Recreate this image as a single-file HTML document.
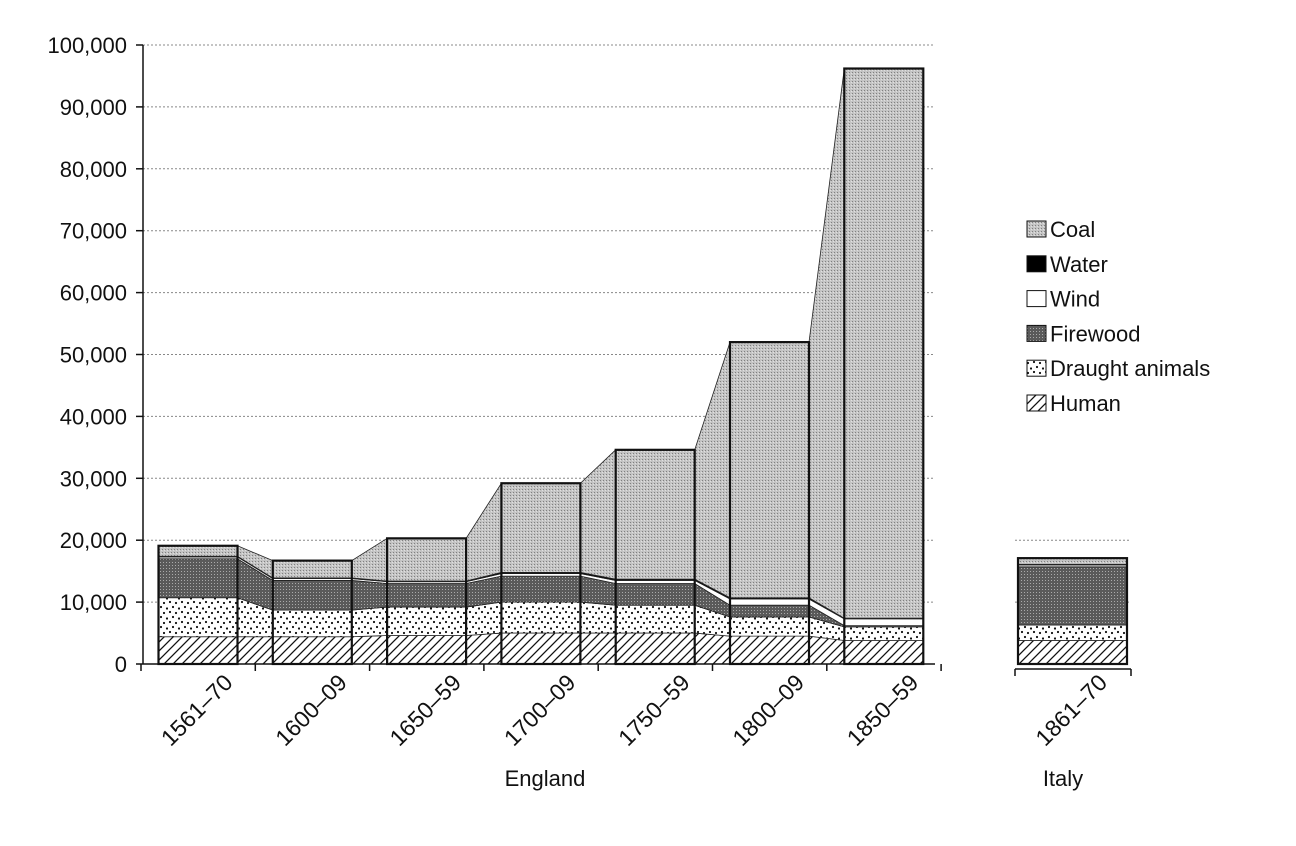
<!DOCTYPE html>
<html><head><meta charset="utf-8"><style>
body{margin:0;background:#fff;}
svg{display:block;font-family:"Liberation Sans",Arial,sans-serif;}
</style></head><body>
<svg id="chart" width="1296" height="846">
<defs>
<pattern id="pCoal" width="3" height="3" patternUnits="userSpaceOnUse"><rect width="3" height="3" fill="#c4c4c4"/><rect x="0" y="0" width="1" height="1" fill="#808080"/><rect x="2" y="1" width="1" height="1" fill="#e0e0e0"/></pattern>
<pattern id="pFire" width="3" height="3" patternUnits="userSpaceOnUse"><rect width="3" height="3" fill="#5a5a5a"/><rect x="1" y="1" width="1" height="1" fill="#aaa"/></pattern>
<pattern id="pDraught" width="12" height="10" patternUnits="userSpaceOnUse"><rect width="12" height="10" fill="#fff"/><circle cx="2" cy="2" r="1.1" fill="#111"/><circle cx="8" cy="3" r="1.1" fill="#111"/><circle cx="5" cy="7" r="1.1" fill="#111"/><circle cx="11" cy="8.5" r="1.1" fill="#111"/></pattern>
<pattern id="pHuman" width="9" height="9" patternUnits="userSpaceOnUse"><rect width="9" height="9" fill="#fff"/><path d="M-1,10 L10,-1 M-3,3 L3,-3 M6,12 L12,6" stroke="#111" stroke-width="1.3"/></pattern>
</defs>
<g id="grid"></g><g id="areas"></g><g id="bars"></g><g id="axes"></g><g id="legend"></g>
</svg>
<script>
const categories=["1561–70","1600–09","1650–59","1700–09","1750–59","1800–09","1850–59"];
const human=[4.4,4.4,4.6,5.0,5.0,4.5,3.8];
const draught=[6.3,4.3,4.6,5.0,4.5,3.1,2.2];
const firewood=[6.3,4.8,3.8,4.2,3.5,1.9,0.2];
const wind=[0.3,0.3,0.3,0.4,0.5,1.0,1.1];
const water=[0.1,0.1,0.1,0.2,0.2,0.2,0.1];
const coal=[1.7,2.8,6.9,14.4,20.9,41.3,88.8];
const italyCategory="1861–70";
const italy=[3.8,2.5,9.4,0.3,0.1,1.0]; // human,draught,firewood,wind,water,coal
const yTicks=[0,10000,20000,30000,40000,50000,60000,70000,80000,90000,100000];
const NS="http://www.w3.org/2000/svg";
const Y0=664,PX=6.19;
const y=v=>Y0-v*PX;
const xc=i=>198+i*114.3;
const BW=79;
const italyX=1072.5;
function mk(t,a,p){const e=document.createElementNS(NS,t);for(const k in a)e.setAttribute(k,a[k]);p.appendChild(e);return e;}
const series=[
 {name:"Human",data:human,fill:"url(#pHuman)"},
 {name:"Draught animals",data:draught,fill:"url(#pDraught)"},
 {name:"Firewood",data:firewood,fill:"url(#pFire)"},
 {name:"Wind",data:wind,fill:"#fff"},
 {name:"Water",data:water,fill:"#000"},
 {name:"Coal",data:coal,fill:"url(#pCoal)"}];
const grid=document.getElementById('grid'),areas=document.getElementById('areas'),bars=document.getElementById('bars'),axes=document.getElementById('axes'),legend=document.getElementById('legend');
yTicks.forEach(t=>{
 if(t>0){const g=mk('line',{x1:143,x2:935,y1:y(t/1000),y2:y(t/1000),stroke:'#888','stroke-width':1,'stroke-dasharray':'2,2'},grid);
 
 
 if(t<=20000){const g2=mk('line',{x1:1015,x2:1131,y1:y(t/1000),y2:y(t/1000),stroke:'#888','stroke-width':1,'stroke-dasharray':'2,2'},grid);
 
 }}
 const tl=mk('text',{x:127,y:y(t/1000)+8,'text-anchor':'end','font-size':22,fill:'#111'},axes);
 tl.textContent=t.toLocaleString('en-US');
 
 
 mk('line',{x1:136,x2:143,y1:y(t/1000),y2:y(t/1000),stroke:'#111','stroke-width':1.5},axes);
});
const n=categories.length;
let base=new Array(n).fill(0);
series.forEach(s=>{
 const top=base.map((b,i)=>b+s.data[i]);
 let pts=[];
 for(let i=0;i<n;i++){pts.push([xc(i)-BW/2,y(top[i])]);pts.push([xc(i)+BW/2,y(top[i])]);}
 let bpts=[];
 for(let i=n-1;i>=0;i--){bpts.push([xc(i)+BW/2,y(base[i])]);bpts.push([xc(i)-BW/2,y(base[i])]);}
 const p=mk('polygon',{points:pts.concat(bpts).map(q=>q.join(',')).join(' '),fill:s.fill,stroke:'#222','stroke-width':0.8},areas);
 
 
 base=top;
});
for(let i=0;i<n;i++){
 const r=mk('rect',{x:xc(i)-BW/2,y:y(base[i]),width:BW,height:Y0-y(base[i]),fill:'none',stroke:'#111','stroke-width':2.2},bars);
 
 
}
let ib=0;
series.forEach((s,k)=>{
 const v=italy[k];
 const r=mk('rect',{x:italyX-54.5,y:y(ib+v),width:109,height:v*PX,fill:s.fill,stroke:'#222','stroke-width':0.8},bars);
 
 
 ib+=v;
});
const ir=mk('rect',{x:italyX-54.5,y:y(ib),width:109,height:Y0-y(ib),fill:'none',stroke:'#111','stroke-width':2.2},bars);


mk('line',{x1:143,x2:143,y1:45,y2:Y0,stroke:'#111','stroke-width':1.5},axes);
mk('line',{x1:143,x2:935,y1:Y0,y2:Y0,stroke:'#111','stroke-width':1.5},axes);
mk('line',{x1:1015,x2:1131,y1:669,y2:669,stroke:'#111','stroke-width':1.5},axes);
mk('line',{x1:1015,x2:1015,y1:669,y2:676,stroke:'#111','stroke-width':1.5},axes);
mk('line',{x1:1131,x2:1131,y1:669,y2:676,stroke:'#111','stroke-width':1.5},axes);
for(let i=0;i<=n;i++){const tx=xc(i)-57;mk('line',{x1:tx,x2:tx,y1:Y0,y2:Y0+7,stroke:'#111','stroke-width':1.5},axes);}
categories.concat([italyCategory]).forEach((c,i)=>{
 const cx=i<n?xc(i):italyX;
 const ax=cx+36, ay=684;
 const t=mk('text',{x:ax,y:ay,'text-anchor':'end','font-size':23,fill:'#111',transform:`rotate(-45 ${ax} ${ay})`},axes);
 t.textContent=c;
 
 
});
const e=mk('text',{x:545,y:786,'text-anchor':'middle','font-size':22,fill:'#111'},axes);e.textContent="England";


const it=mk('text',{x:1063,y:786,'text-anchor':'middle','font-size':22,fill:'#111'},axes);it.textContent="Italy";


const legendItems=[["Coal","url(#pCoal)"],["Water","#000"],["Wind","#fff"],["Firewood","url(#pFire)"],["Draught animals","url(#pDraught)"],["Human","url(#pHuman)"]];
legendItems.forEach((l,i)=>{
 const yy=229+i*34.8;
 const g=mk('g',{},legend);
 
 
 mk('rect',{x:1027,y:yy-8,width:19,height:16,fill:l[1],stroke:'#111','stroke-width':1},g);
 const t=mk('text',{x:1050,y:yy+8,'font-size':22,fill:'#111'},g);t.textContent=l[0];
});
</script>
</body></html>
